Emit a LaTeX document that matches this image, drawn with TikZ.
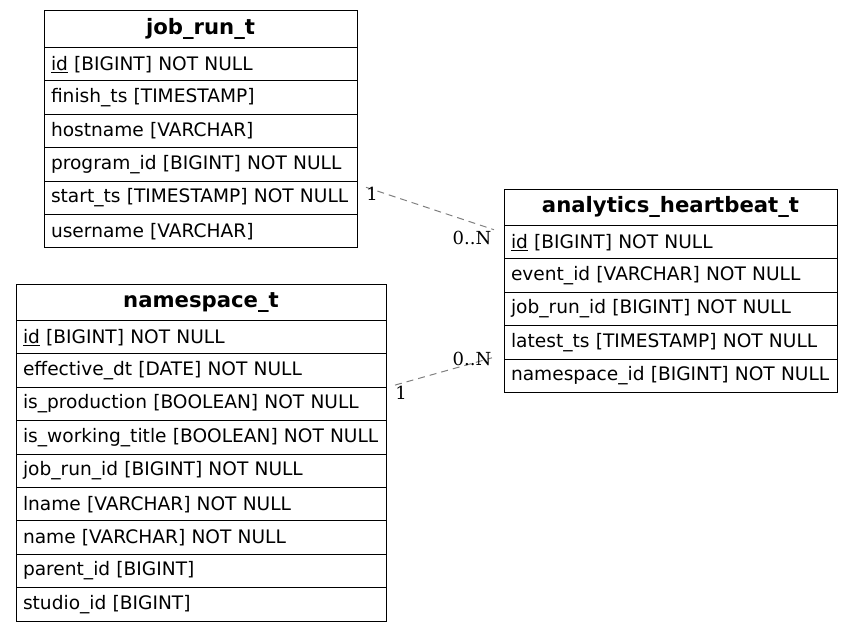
\documentclass[tikz,border=0pt]{standalone}
\usepackage{fontspec}
\setmainfont{DejaVu Sans}
\newfontfamily\cardfont{DejaVu Serif}
\usetikzlibrary{positioning}

\tikzset{
  tabhead/.style={draw, line width=1pt, outer sep=0pt, text width=#1, align=center, minimum height=36.5pt,
    inner xsep=7pt, inner ysep=0pt, font=\fontsize{21.2}{24}\selectfont\bfseries},
  tabrow/.style={draw, line width=1pt, outer sep=0pt, text width=#1, align=left, minimum height=33.4pt,
    inner xsep=7pt, inner ysep=0pt, font=\fontsize{18.6}{22}\selectfont},
  relline/.style={draw=gray, line width=1pt, dash pattern=on 7pt off 5pt},
  card/.style={inner sep=0pt, font=\cardfont\fontsize{18}{20}\selectfont}
}

\begin{document}
\begin{tikzpicture}[x=1pt, y=-1pt]
\useasboundingbox (0,0) rectangle (853,631);

% job_run_t
\node[tabhead=299pt, anchor=north west] (jr) at (44,11) {job\_run\_t};
\node[tabrow=299pt, below=0pt of jr] (jr-id) {\mbox{\underline{id} [BIGINT] NOT NULL}};
\node[tabrow=299pt, below=0pt of jr-id] (jr-finish) {\mbox{finish\_ts [TIMESTAMP]}};
\node[tabrow=299pt, below=0pt of jr-finish] (jr-host) {\mbox{hostname [VARCHAR]}};
\node[tabrow=299pt, below=0pt of jr-host] (jr-prog) {\mbox{program\_id [BIGINT] NOT NULL}};
\node[tabrow=299pt, below=0pt of jr-prog] (jr-start) {\mbox{start\_ts [TIMESTAMP] NOT NULL}};
\node[tabrow=299pt, below=0pt of jr-start] (jr-user) {\mbox{username [VARCHAR]}};

% namespace_t
\node[tabhead=356pt, anchor=north west] (ns) at (16,284) {namespace\_t};
\node[tabrow=356pt, below=0pt of ns] (ns-id) {\mbox{\underline{id} [BIGINT] NOT NULL}};
\node[tabrow=356pt, below=0pt of ns-id] (ns-eff) {\mbox{effective\_dt [DATE] NOT NULL}};
\node[tabrow=356pt, below=0pt of ns-eff] (ns-prod) {\mbox{is\_production [BOOLEAN] NOT NULL}};
\node[tabrow=356pt, below=0pt of ns-prod] (ns-work) {\mbox{is\_working\_title [BOOLEAN] NOT NULL}};
\node[tabrow=356pt, below=0pt of ns-work] (ns-jr) {\mbox{job\_run\_id [BIGINT] NOT NULL}};
\node[tabrow=356pt, below=0pt of ns-jr] (ns-lname) {\mbox{lname [VARCHAR] NOT NULL}};
\node[tabrow=356pt, below=0pt of ns-lname] (ns-name) {\mbox{name [VARCHAR] NOT NULL}};
\node[tabrow=356pt, below=0pt of ns-name] (ns-parent) {\mbox{parent\_id [BIGINT]}};
\node[tabrow=356pt, below=0pt of ns-parent] (ns-studio) {\mbox{studio\_id [BIGINT]}};

% analytics_heartbeat_t
\node[tabhead=319pt, anchor=north west] (ah) at (504,189) {analytics\_heartbeat\_t};
\node[tabrow=319pt, below=0pt of ah] (ah-id) {\mbox{\underline{id} [BIGINT] NOT NULL}};
\node[tabrow=319pt, below=0pt of ah-id] (ah-event) {\mbox{event\_id [VARCHAR] NOT NULL}};
\node[tabrow=319pt, below=0pt of ah-event] (ah-jr) {\mbox{job\_run\_id [BIGINT] NOT NULL}};
\node[tabrow=319pt, below=0pt of ah-jr] (ah-latest) {\mbox{latest\_ts [TIMESTAMP] NOT NULL}};
\node[tabrow=319pt, below=0pt of ah-latest] (ah-ns) {\mbox{namespace\_id [BIGINT] NOT NULL}};

% relations
\coordinate (jr-out) at ([xshift=9pt, yshift=10.5pt]jr-start.east);
\coordinate (ah-in1) at ([xshift=-10pt, yshift=12.5pt]ah-id.west);
\coordinate (ns-out) at ([xshift=9pt, yshift=-14.5pt]ns-eff.east);
\coordinate (ah-in2) at ([xshift=-12pt, yshift=18pt]ah-ns.west);
\draw[relline] (jr-out) -- (ah-in1);
\draw[relline] (ns-out) -- (ah-in2);

\node[card] (c1-one) at (372,194) {1};
\node[card] (c1-many) at (472,238) {0..N};
\node[card] (c2-one) at (401,393) {1};
\node[card] (c2-many) at (472,359) {0..N};
\end{tikzpicture}
\end{document}
